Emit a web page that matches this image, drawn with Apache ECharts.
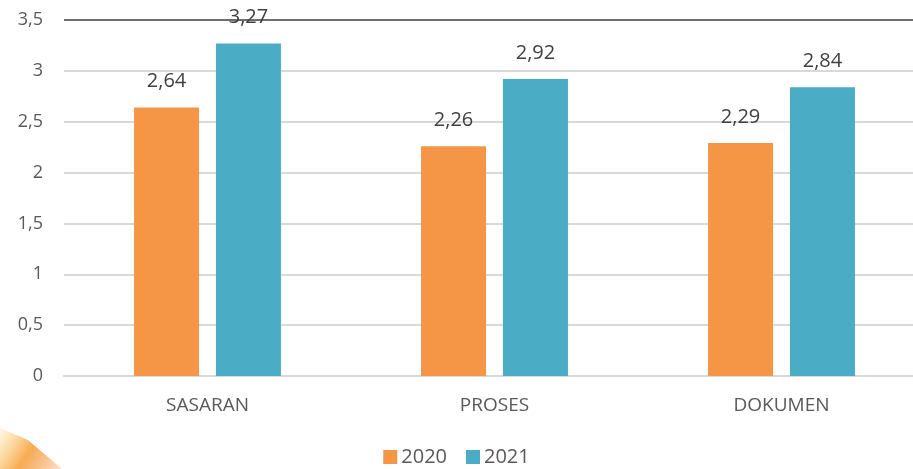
<!DOCTYPE html>
<html>
<head>
<meta charset="utf-8">
<script src="https://cdn.jsdelivr.net/npm/echarts@6/dist/echarts.min.js"></script>
<style>
  html, body { margin: 0; padding: 0; background: #fff; }
  #chart { width: 913px; height: 469px; }
</style>
</head>
<body>
<div id="chart"></div>
<script>
const categories = ['SASARAN', 'PROSES', 'DOKUMEN']
const years = ['2020', '2021']
const values2020 = [2.64, 2.26, 2.29]
const values2021 = [3.27, 2.92, 2.84]
const colors = ['#F59646', '#4BACC6']

const chart = echarts.init(document.getElementById('chart'))

const comma = v => String(v).replace('.', ',')

const option = {
  animation: false,
  color: colors,
  textStyle: { fontFamily: 'Open Sans' },
  grid: { left: 64, right: -12, top: 20, bottom: 93, outerBoundsMode: 'none' },
  legend: {
    data: years,
    bottom: -3,
    left: 'center',
    itemWidth: 14,
    itemHeight: 14,
    itemGap: 19,
    icon: 'rect',
    textStyle: { fontSize: 20, color: '#595959', padding: [0, 0, 0, -1] }
  },
  xAxis: {
    type: 'category',
    data: categories,
    axisLine: { lineStyle: { color: '#d9d9d9', width: 2 } },
    axisTick: { show: false },
    axisLabel: { fontSize: 19, color: '#595959', margin: 20 }
  },
  yAxis: {
    type: 'value',
    min: 0,
    max: 3.5,
    interval: 0.5,
    axisLabel: { fontSize: 18, color: '#595959', margin: 21, formatter: v => comma(v) },
    splitLine: {
      lineStyle: {
        width: 2,
        color: ['#d9d9d9', '#d9d9d9', '#d9d9d9', '#d9d9d9', '#d9d9d9', '#d9d9d9', '#d9d9d9', '#6e6e6e']
      }
    }
  },
  series: [
    {
      name: years[0],
      type: 'bar',
      data: values2020,
      barWidth: 65,
      barGap: '26%',
      label: { show: true, position: 'top', distance: 16, fontSize: 20, color: '#404040', formatter: p => comma(p.value) }
    },
    {
      name: years[1],
      type: 'bar',
      data: values2021,
      barWidth: 65,
      label: { show: true, position: 'top', distance: 16, fontSize: 20, color: '#404040', formatter: p => comma(p.value) }
    }
  ],
  graphic: [{
    type: 'polygon',
    silent: true,
    shape: { points: [[0, 428], [28, 440], [62, 469], [0, 469]] },
    style: {
      fill: new echarts.graphic.LinearGradient(0, 0, 1, 1, [
        { offset: 0, color: 'rgba(255,200,80,0.15)' },
        { offset: 0.5, color: 'rgba(245,150,40,0.8)' },
        { offset: 1, color: 'rgba(240,120,20,0.2)' }
      ])
    }
  }]
}

chart.setOption(option)
</script>
</body>
</html>
